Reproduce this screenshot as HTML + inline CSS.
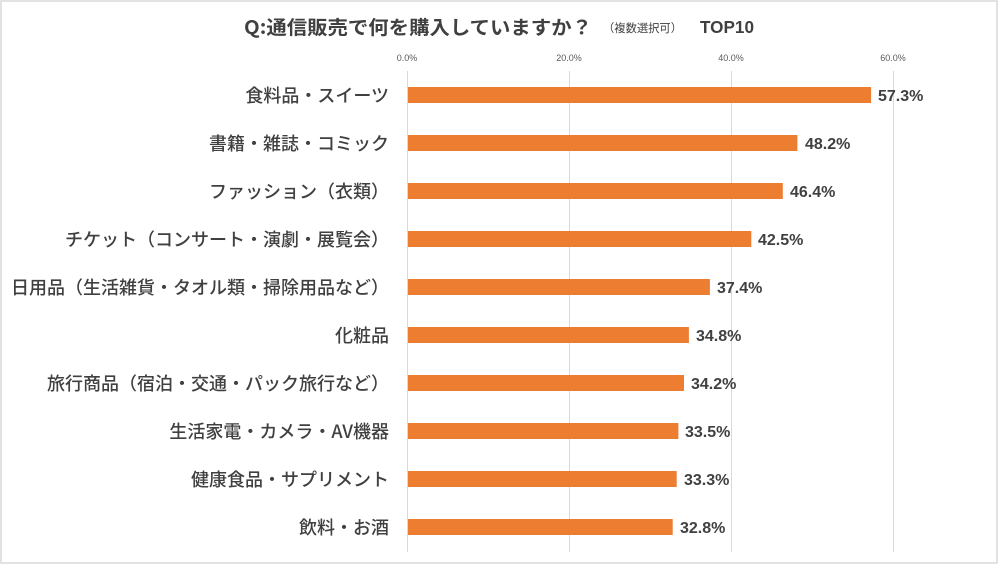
<!DOCTYPE html>
<html lang="ja">
<head>
<meta charset="utf-8">
<style>
  html,body{margin:0;padding:0;background:#fff;}
  svg{display:block;}
  .cat{font-family:"Noto Sans CJK JP","Liberation Sans",sans-serif;font-size:18px;font-weight:500;fill:#404040;}
  .val{font-family:"Liberation Sans",sans-serif;font-size:16px;font-weight:700;fill:#404040;}
  .tick{font-family:"Liberation Sans",sans-serif;font-size:9px;fill:#595959;}
</style>
</head>
<body>
<svg width="1000" height="565" viewBox="0 0 1000 565" xmlns="http://www.w3.org/2000/svg">
  <rect x="0" y="0" width="1000" height="565" fill="#fff"/>
  <rect x="1" y="1" width="996" height="562" fill="none" stroke="#d9d9d9" stroke-width="1.5"/>

  <!-- Title -->
  <text x="244" y="34" font-family="'Noto Sans CJK JP','Liberation Sans',sans-serif" font-size="19" font-weight="700" fill="#404040" textLength="348" lengthAdjust="spacingAndGlyphs">Q:通信販売で何を購入していますか？</text>
  <text x="603" y="32" font-family="'Liberation Sans','Noto Sans CJK JP',sans-serif" font-size="11.5" fill="#404040" textLength="79" lengthAdjust="spacingAndGlyphs">（複数選択可）</text>
  <text x="700" y="33" font-family="'Liberation Sans',sans-serif" font-size="17.5" font-weight="700" fill="#404040" textLength="54" lengthAdjust="spacingAndGlyphs">TOP10</text>

  <!-- tick labels -->
  <text class="tick" x="407" y="61" text-anchor="middle">0.0%</text>
  <text class="tick" x="569" y="61" text-anchor="middle">20.0%</text>
  <text class="tick" x="731" y="61" text-anchor="middle">40.0%</text>
  <text class="tick" x="893" y="61" text-anchor="middle">60.0%</text>

  <!-- gridlines -->
  <g stroke="#d9d9d9" stroke-width="1">
    <line x1="407.5" y1="71" x2="407.5" y2="552"/>
    <line x1="569.5" y1="71" x2="569.5" y2="552"/>
    <line x1="731.5" y1="71" x2="731.5" y2="552"/>
    <line x1="893.5" y1="71" x2="893.5" y2="552"/>
  </g>

  <!-- bars -->
  <g fill="#ED7D31">
    <rect x="408" y="87" width="463.1" height="16"/>
    <rect x="408" y="135" width="389.4" height="16"/>
    <rect x="408" y="183" width="374.8" height="16"/>
    <rect x="408" y="231" width="343.3" height="16"/>
    <rect x="408" y="279" width="301.9" height="16"/>
    <rect x="408" y="327" width="280.9" height="16"/>
    <rect x="408" y="375" width="276.0" height="16"/>
    <rect x="408" y="423" width="270.4" height="16"/>
    <rect x="408" y="471" width="268.7" height="16"/>
    <rect x="408" y="519" width="264.7" height="16"/>
  </g>

  <!-- category labels -->
  <text class="cat" x="389" y="102" text-anchor="end">食料品・スイーツ</text>
  <text class="cat" x="389" y="150" text-anchor="end">書籍・雑誌・コミック</text>
  <text class="cat" x="389" y="198" text-anchor="end">ファッション（衣類）</text>
  <text class="cat" x="389" y="246" text-anchor="end">チケット（コンサート・演劇・展覧会）</text>
  <text class="cat" x="389" y="294" text-anchor="end">日用品（生活雑貨・タオル類・掃除用品など）</text>
  <text class="cat" x="389" y="342" text-anchor="end">化粧品</text>
  <text class="cat" x="389" y="390" text-anchor="end">旅行商品（宿泊・交通・パック旅行など）</text>
  <text class="cat" x="389" y="438" text-anchor="end">生活家電・カメラ・AV機器</text>
  <text class="cat" x="389" y="486" text-anchor="end">健康食品・サプリメント</text>
  <text class="cat" x="389" y="534" text-anchor="end">飲料・お酒</text>

  <!-- value labels -->
  <text class="val" x="878" y="101">57.3%</text>
  <text class="val" x="805" y="149">48.2%</text>
  <text class="val" x="790" y="197">46.4%</text>
  <text class="val" x="758" y="245">42.5%</text>
  <text class="val" x="717" y="293">37.4%</text>
  <text class="val" x="696" y="341">34.8%</text>
  <text class="val" x="691" y="389">34.2%</text>
  <text class="val" x="685" y="437">33.5%</text>
  <text class="val" x="684" y="485">33.3%</text>
  <text class="val" x="680" y="533">32.8%</text>
</svg>
</body>
</html>
